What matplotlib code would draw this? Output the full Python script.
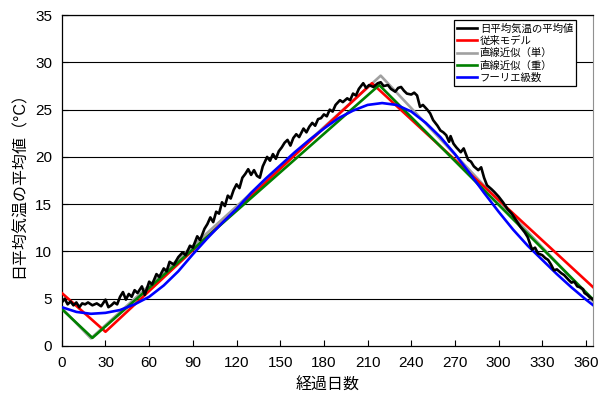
import numpy as np
import matplotlib
matplotlib.use("Agg")
import matplotlib.pyplot as plt

plt.rcParams['font.family'] = ['Liberation Sans', 'Noto Sans CJK JP', 'DejaVu Sans']

# daily mean temperature (day, value)
obs_day = [0, 2, 4, 6, 8, 10, 12, 14, 16, 18, 21, 24, 27, 30, 32, 34, 36, 38, 40, 42,
           44, 46, 48, 50, 52, 55, 57, 60, 62, 65, 67, 70, 72, 74, 77, 80, 83, 85, 88, 90,
           93, 95, 98, 100, 102, 104, 106, 108, 110, 112, 114, 116, 118, 120, 122, 124, 126, 128, 130, 132,
           134, 136, 138, 141, 143, 145, 147, 149, 151, 153, 155, 157, 159, 161, 163, 166, 168, 170, 172, 174,
           176, 178, 180, 182, 184, 186, 188, 191, 193, 196, 198, 200, 202, 204, 207, 209, 211, 214, 217, 219,
           221, 224, 226, 229, 231, 233, 235, 237, 240, 242, 244, 246, 248, 251, 253, 255, 258, 260, 262, 264,
           266, 267, 269, 271, 274, 276, 279, 281, 283, 286, 288, 290, 292, 295, 297, 300, 303, 306, 309, 312,
           315, 318, 320, 322, 323, 325, 327, 330, 332, 334, 336, 338, 340, 343, 345, 348, 350, 352, 354, 356,
           358, 359, 361, 363, 365]
obs_temp = [4.6, 5.0, 4.4, 4.7, 4.3, 4.6, 4.1, 4.5, 4.4, 4.6, 4.3, 4.5, 4.2, 4.9, 4.1, 4.3, 4.6, 4.4, 5.2, 5.7,
            4.9, 5.5, 5.2, 5.9, 5.6, 6.3, 5.4, 6.8, 6.5, 7.6, 7.3, 8.2, 7.9, 8.9, 8.6, 9.4, 9.9, 9.6, 10.6, 10.4,
            11.6, 11.2, 12.4, 12.9, 13.6, 13.1, 14.2, 14.0, 15.2, 14.8, 15.9, 15.6, 16.5, 17.1, 16.7, 17.8, 18.2, 18.7, 18.1, 18.6,
            18.0, 17.8, 19.0, 20.0, 19.6, 20.3, 19.8, 20.6, 21.0, 21.5, 21.8, 21.2, 22.0, 22.4, 22.1, 23.0, 22.6, 23.2, 23.6, 23.3,
            24.0, 24.1, 24.5, 24.3, 25.0, 24.8, 25.5, 26.0, 25.8, 26.2, 26.0, 26.7, 26.5, 27.2, 27.8, 27.3, 27.6, 27.4, 27.8, 27.9,
            27.5, 27.6, 27.2, 26.9, 27.3, 27.4, 27.0, 26.7, 26.6, 26.8, 26.5, 25.3, 25.5, 25.0, 24.6, 23.9, 23.3, 22.8, 22.6, 22.3,
            21.6, 22.2, 21.4, 21.0, 20.5, 20.9, 19.7, 19.5, 19.0, 18.6, 18.9, 17.8, 17.0, 16.6, 16.3, 15.8, 15.2, 14.5, 14.0, 13.3,
            12.6, 12.0, 11.5, 10.6, 10.2, 10.4, 9.8, 9.6, 9.3, 9.1, 8.6, 8.0, 8.1, 7.7, 7.5, 7.0, 6.7, 6.8, 6.3, 6.2,
            6.0, 5.6, 5.4, 5.1, 4.9]

# conventional model: three-point broken line
model_day = [0, 30, 213, 365]
model_temp = [5.6, 1.5, 27.8, 6.2]

# piecewise linear approximation (single)
lin1_day = [0, 20, 219, 365]
lin1_temp = [4.0, 0.8, 28.6, 4.7]

# piecewise linear approximation (multiple)
lin2_day = [0, 21, 218, 365]
lin2_temp = [3.9, 0.85, 27.6, 4.9]

# Fourier series fit
four_day = [0, 10, 20, 30, 40, 50, 60, 70, 80, 90, 100, 110, 120, 130, 140, 150, 160, 170, 180, 190,
            200, 210, 220, 230, 240, 250, 260, 270, 280, 290, 300, 310, 320, 330, 340, 350, 360, 365]
four_temp = [4.1, 3.6, 3.4, 3.5, 3.8, 4.4, 5.2, 6.4, 7.9, 9.7, 11.4, 13.0, 14.5, 16.2, 17.7, 19.1, 20.5, 21.8, 23.0, 24.1,
             24.9, 25.5, 25.7, 25.5, 24.8, 23.6, 22.1, 20.3, 18.3, 16.2, 14.2, 12.3, 10.6, 9.1, 7.6, 6.2, 4.9, 4.3]

x_ticks = list(range(0, 361, 30))
y_ticks = list(range(0, 36, 5))

fig = plt.figure(figsize=(6.06, 3.99), dpi=100)
ax = fig.add_axes([0.102, 0.133, 0.877, 0.829])

for y in y_ticks[1:]:
    ax.axhline(y, color='black', lw=0.8, zorder=1)

lw = 1.9
ax.plot(obs_day, obs_temp, color='black', lw=lw, label='日平均気温の平均値', zorder=5)
ax.plot(model_day, model_temp, color='#ff0000', lw=lw, label='従来モデル', zorder=4)
ax.plot(lin1_day, lin1_temp, color='#a0a0a0', lw=lw, label='直線近似（単）', zorder=3)
ax.plot(lin2_day, lin2_temp, color='#008000', lw=lw, label='直線近似（重）', zorder=4)
ax.plot(four_day, four_temp, color='#0000ff', lw=lw, label='フーリエ級数', zorder=4)

ax.set_xlim(0, 365)
ax.set_ylim(0, 35)
ax.set_xticks(x_ticks)
ax.set_yticks(y_ticks)
ax.tick_params(direction='in', length=4, labelsize=11, pad=7)
ax.spines['right'].set_color('#909090')
for s in ['left', 'bottom', 'top']:
    ax.spines[s].set_linewidth(0.9)

ax.set_xlabel('経過日数', fontsize=11.5, labelpad=6)
ax.set_ylabel('日平均気温の平均値（°C）', fontsize=11.5, labelpad=6)

leg = ax.legend(loc='upper right', bbox_to_anchor=(0.968, 0.985), fontsize=7.5,
                frameon=True, fancybox=False, edgecolor='black', framealpha=1,
                handlelength=1.9, handletextpad=0.3, labelspacing=0.22, borderpad=0.3,
                borderaxespad=0)
leg.get_frame().set_linewidth(0.9)

fig.savefig('out.png', dpi=100)
